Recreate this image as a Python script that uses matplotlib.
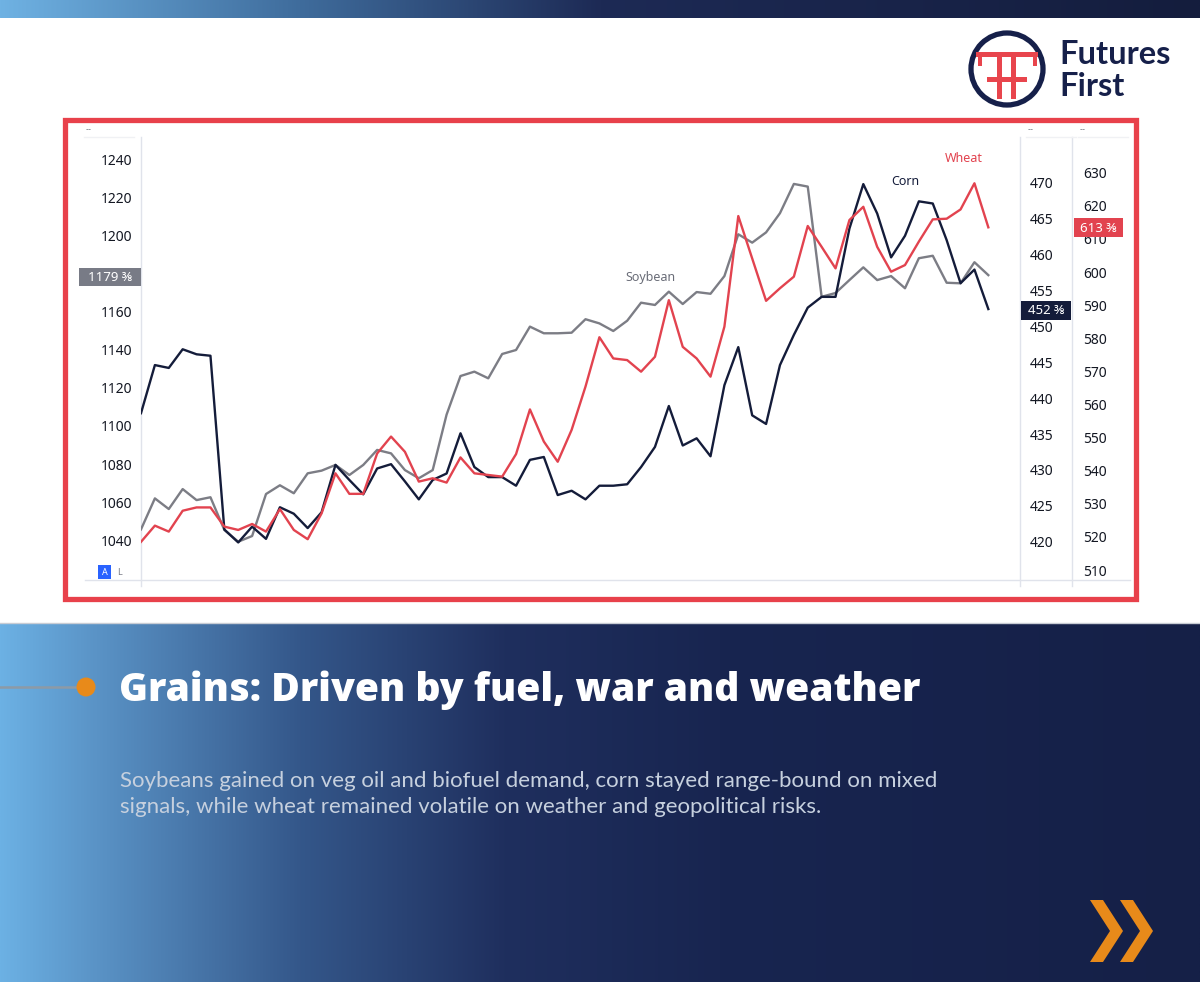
import numpy as np
import matplotlib
matplotlib.use("Agg")
import matplotlib.pyplot as plt
from matplotlib.patches import Rectangle, Circle, Polygon
from matplotlib.colors import to_rgb

# closing prices, one point per session
soybean = [1045.6, 1061.9, 1056.3, 1066.8, 1061.0, 1062.5, 1045.3, 1039.1, 1042.1, 1064.2,
           1068.8, 1064.6, 1075.1, 1076.5, 1079.5, 1074.2, 1079.5, 1087.4, 1085.6, 1076.8,
           1072.5, 1076.8, 1106.0, 1126.3, 1128.6, 1125.1, 1137.9, 1140.0, 1152.3, 1148.8,
           1148.8, 1149.1, 1156.2, 1154.0, 1150.0, 1155.4, 1164.9, 1163.7, 1170.7, 1164.2,
           1170.5, 1169.6, 1178.9, 1200.9, 1196.5, 1201.9, 1212.0, 1227.4, 1226.0, 1168.0,
           1170.0, 1176.8, 1183.5, 1176.8, 1178.9, 1172.5, 1188.3, 1189.6, 1175.4, 1175.1,
           1186.2, 1179.4]
corn = [437.9, 444.6, 444.2, 446.8, 446.1, 445.9, 421.7, 419.9, 422.1, 420.4,
        424.8, 423.9, 421.9, 424.1, 430.7, 428.6, 426.6, 430.2, 430.8, 428.4,
        425.9, 428.6, 429.5, 435.1, 430.4, 429.0, 429.0, 427.8, 431.4, 431.8,
        426.5, 427.1, 425.9, 427.8, 427.8, 428.0, 430.4, 433.2, 438.9, 433.4,
        434.4, 431.9, 441.8, 447.1, 437.6, 436.4, 444.6, 448.8, 452.6, 454.1,
        454.1, 463.6, 469.8, 465.7, 459.6, 462.6, 467.4, 467.1, 462.0, 456.0,
        457.9, 452.4]
wheat = [518.5, 523.4, 521.6, 527.9, 528.9, 528.9, 523.1, 522.1, 523.9, 521.6,
         528.4, 522.1, 519.3, 527.1, 539.2, 533.0, 533.0, 545.2, 550.3, 545.7,
         536.7, 537.7, 536.4, 544.0, 539.2, 538.7, 538.2, 545.0, 558.5, 548.8,
         542.7, 552.3, 565.4, 580.3, 573.9, 573.4, 569.9, 574.4, 591.5, 577.4,
         573.9, 568.4, 583.5, 616.9, 604.1, 591.3, 595.1, 598.6, 613.9, 607.6,
         601.1, 615.7, 619.7, 607.6, 600.1, 602.1, 609.2, 615.9, 616.1, 618.9,
         626.8, 613.5]

# 1180 sits under the last-price tag in the original, so it is not shown
soy_ticks = [1040, 1060, 1080, 1100, 1120, 1140, 1160, 1200, 1220, 1240]
corn_ticks = list(range(420, 471, 5))
wheat_ticks = list(range(510, 631, 10))
last_soy, last_corn, last_wheat = "1179 ⅜", "452 ⅜", "613 ⅜"

title = "Grains: Driven by fuel, war and weather"
body = ["Soybeans gained on veg oil and biofuel demand, corn stayed range-bound on mixed",
        "signals, while wheat remained volatile on weather and geopolitical risks."]

SOY = "#7c7d85"
CORN = "#141c3a"
WHEAT = "#e2434f"
NAVY = "#16204a"
ORANGE = "#e88a1a"

W, H = 1200, 982
fig = plt.figure(figsize=(12, 9.82), dpi=100)
fig.patch.set_facecolor("white")

# background layer in pixel coordinates
bg = fig.add_axes([0, 0, 1, 1], zorder=0)
bg.axis("off")


def hgrad(axis, x0, x1, y0, y1, stops):
    xs = np.linspace(0, 1, 800)
    pos = [s[0] for s in stops]
    cols = np.array([to_rgb(s[1]) for s in stops])
    img = np.stack([np.interp(xs, pos, cols[:, k]) for k in range(3)], axis=-1)[None, :, :]
    axis.imshow(img, extent=(x0, x1, y1, y0), aspect="auto", interpolation="bilinear", zorder=0)


hgrad(bg, 0, W, 0, 18, [(0, "#6fb2e3"), (0.25, "#3f6c9c"), (0.5, "#1d2a55"), (1, "#141d3d")])
hgrad(bg, 0, W, 623, H, [(0, "#6cb1e4"), (0.08, "#5a93c6"), (0.25, "#34578a"),
                         (0.42, "#1f2f5e"), (0.6, "#182550"), (1, "#152047")])
bg.plot([0, W], [623, 623], color="#c8ccd4", lw=1.0, zorder=1)

# logo
bg.add_patch(Circle((1007, 69), 36, fill=False, ec=NAVY, lw=3.8, zorder=2))
for (x0, y0, w, h) in [(976, 52, 62, 5), (978, 52, 4, 14), (1033, 52, 4, 14),
                       (997, 52, 5, 47), (1011, 52, 5, 47), (987, 77, 40, 5)]:
    bg.add_patch(Rectangle((x0, y0), w, h, fc="#e8454d", ec="none", zorder=3))
bg.text(1059, 54, "Futures", fontsize=23.5, fontweight="bold", color=NAVY, family="Lato",
        va="center", ha="left", zorder=3)
bg.text(1059, 86, "First", fontsize=23.5, fontweight="bold", color=NAVY, family="Lato",
        va="center", ha="left", zorder=3)

# red frame and chart separators
bg.add_patch(Rectangle((65, 120), 1071, 479, fill=False, ec="#e8414b", lw=3.8, zorder=2))
for xv in (141, 1020, 1072):
    bg.plot([xv, xv], [137, 586], color="#e0e3eb", lw=1.0, zorder=1)
bg.plot([85, 1130], [580, 580], color="#e0e3eb", lw=1.0, zorder=1)
for xv in (84, 1026, 1078):
    bg.plot([xv, xv + 50], [137, 137], color="#f0f1f4", lw=1.0, zorder=1)
    bg.text(xv + 2, 134, "--", fontsize=6, color="#787b86", va="bottom", ha="left")

# bottom panel text
bg.plot([0, 78], [687, 687], color="#8d9aa6", lw=1.8, zorder=2)
bg.add_patch(Circle((86, 687), 9.5, fc=ORANGE, ec="none", zorder=3))
bg.text(119, 690, title, fontsize=28.2, fontweight="heavy", color="white", family="Open Sans",
        va="center", ha="left", zorder=3)
bg.text(120, 781, body[0], fontsize=16, color="#c6d0de", family="Lato",
        va="center", ha="left", zorder=3)
bg.text(120, 807, body[1], fontsize=16, color="#c6d0de", family="Lato",
        va="center", ha="left", zorder=3)
for dx in (0, 30):
    bg.add_patch(Polygon([(1090 + dx, 900), (1103 + dx, 900), (1123 + dx, 931),
                          (1103 + dx, 962), (1090 + dx, 962), (1110 + dx, 931)],
                         closed=True, fc=ORANGE, ec="none", zorder=3))

bg.set_xlim(0, W)
bg.set_ylim(H, 0)

# price chart: three series on their own scales
x = np.arange(len(soybean))
rect = [141 / W, 1 - 580 / H, 879 / W, 443 / H]
ax = fig.add_axes(rect, zorder=2)
ax.patch.set_alpha(0)
ax.plot(x, soybean, color=SOY, lw=1.7)
ax.set_xlim(0, 63.28)
ax.set_ylim(1018.95, 1252.1)
ax.set_yticks(soy_ticks)
ax.set_xticks([])
ax.tick_params(axis="y", length=0, pad=6, labelsize=10, labelcolor="#131722")

axc = ax.twinx()
axc.plot(x, corn, color=CORN, lw=1.7)
axc.set_ylim(414.67, 476.36)
axc.set_yticks(corn_ticks)
axc.tick_params(axis="y", length=0, pad=7, labelsize=10, labelcolor="#131722")

axw = ax.twinx()
axw.spines["right"].set_position(("axes", (1072 - 141) / 879))
axw.plot(x, wheat, color=WHEAT, lw=1.7)
axw.set_ylim(506.98, 640.78)
axw.set_yticks(wheat_ticks)
axw.tick_params(axis="y", length=0, pad=8, labelsize=10, labelcolor="#131722")

for a in (ax, axc, axw):
    for s in a.spines.values():
        s.set_visible(False)
    for lbl in a.get_yticklabels():
        lbl.set_family("Noto Sans")

# overlay: last-price tags and series names
ov = fig.add_axes([0, 0, 1, 1], zorder=5)
ov.axis("off")
ov.set_xlim(0, W)
ov.set_ylim(H, 0)
for (x0, y0, w, h, col, txt) in [(79, 268, 62, 18, "#787b86", last_soy),
                                 (1021, 301, 50, 19, CORN, last_corn),
                                 (1074, 218, 49, 19, WHEAT, last_wheat)]:
    ov.add_patch(Rectangle((x0, y0), w, h, fc=col, ec="none"))
    ov.text(x0 + w / 2, y0 + h / 2 + 0.5, txt, fontsize=9.5, color="white",
            family=["Noto Sans", "DejaVu Sans"], ha="center", va="center")
ov.text(650, 278, "Soybean", fontsize=9, color="#6a6d78", family="Noto Sans", ha="center", va="center")
ov.text(905, 181, "Corn", fontsize=9, color=CORN, family="Noto Sans", ha="center", va="center")
ov.text(964, 158, "Wheat", fontsize=9, color=WHEAT, family="Noto Sans", ha="center", va="center")
ov.add_patch(Rectangle((98, 565), 13, 14, fc="#2962ff", ec="none"))
ov.text(104.5, 572.5, "A", fontsize=6.5, color="white", family="Noto Sans", ha="center", va="center")
ov.text(119, 572.5, "L", fontsize=6.5, color="#787b86", family="Noto Sans", ha="center", va="center")

fig.savefig("out.png", dpi=100)
